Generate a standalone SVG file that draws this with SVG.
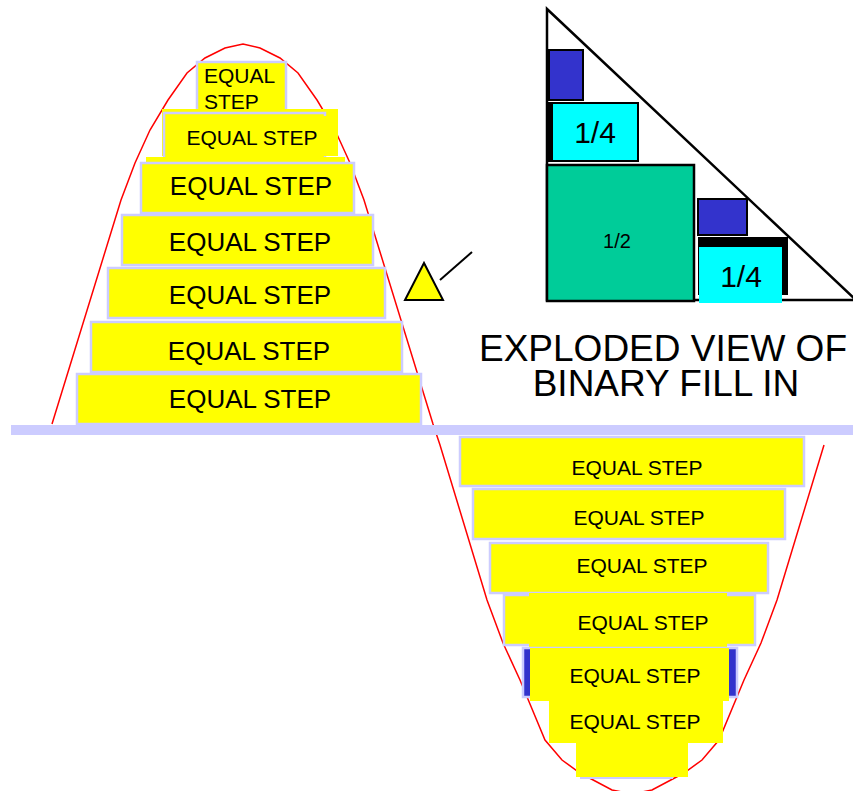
<svg xmlns="http://www.w3.org/2000/svg" width="853" height="791" viewBox="0 0 853 791">
<style>
.y{fill:#ffff00}
.b{fill:#ffff00;stroke:#ccccff;stroke-width:2.5}
.t{font-family:"Liberation Sans",Arial,sans-serif;fill:#000;text-anchor:middle}
.s21{font-size:21px}
.s26{font-size:26px}
.blk{stroke:#000;stroke-width:2.5}
</style>
<rect width="853" height="791" fill="#fff"/>
<g id="wave">
<polyline fill="none" stroke="#ff0000" stroke-width="1.5" points="52,424 121,200 135,163 150,130 168,100 187,73 205,58 225,48 243,44 260,48 280,58 298,73 317,100 335,130 350,163 364,200 433,424 440,445 487,600 503,643 520,680 545,740 562,760 580,773 612,790 632,794 652,790 684,773 702,760 719,740 744,680 761,643 777,600 824,445"/>
</g>
<g id="axis">
<rect x="11" y="425" width="842" height="10" fill="#ccccff"/>
</g>
<g id="upper-steps">
<g id="u1"><rect class="b" x="197" y="62" width="89" height="49"/><text class="t s21" x="204" y="83" style="text-anchor:start">EQUAL</text><text class="t s21" x="204" y="109" style="text-anchor:start">STEP</text></g>
<rect class="y" x="162" y="109" width="176" height="47"/>
<g id="u2"><rect class="b" x="164" y="113" width="161" height="51"/><rect class="y" x="166" y="116" width="172" height="40"/><text class="t s21" x="252" y="145">EQUAL STEP</text></g>
<rect class="y" x="146" y="157" width="199" height="8"/>
<g id="u3"><rect class="b" x="141" y="163" width="213" height="50"/><text class="t s26" x="251" y="195">EQUAL STEP</text></g>
<g id="u4"><rect class="b" x="122" y="215" width="251" height="50"/><text class="t s26" x="250" y="251">EQUAL STEP</text></g>
<g id="u5"><rect class="b" x="108" y="268" width="277" height="50"/><text class="t s26" x="250" y="304">EQUAL STEP</text></g>
<g id="u6"><rect class="b" x="91" y="322" width="311" height="50"/><text class="t s26" x="249" y="360">EQUAL STEP</text></g>
<g id="u7"><rect class="b" x="77" y="374" width="344" height="50"/><text class="t s26" x="250" y="408">EQUAL STEP</text></g>
</g>
<g id="lower-steps">
<g id="l1"><rect class="b" x="460" y="437" width="344" height="49"/><text class="t s21" x="637" y="475">EQUAL STEP</text></g>
<g id="l2"><rect class="b" x="473" y="489" width="312" height="50"/><text class="t s21" x="639" y="525">EQUAL STEP</text></g>
<g id="l3"><rect class="b" x="490" y="543" width="278" height="50"/><text class="t s21" x="642" y="573">EQUAL STEP</text></g>
<g id="l4"><rect class="b" x="504" y="595" width="251" height="50"/><rect class="y" x="529" y="593" width="198" height="56"/><text class="t s21" x="643" y="630">EQUAL STEP</text></g>
<g id="l5"><rect x="523" y="648" width="214" height="49" fill="#3333cc" stroke="#ccccff" stroke-width="2.5"/><rect class="y" x="530" y="648" width="199" height="53"/><text class="t s21" x="635" y="683">EQUAL STEP</text></g>
<g id="l6"><rect class="y" x="549" y="701" width="174" height="42"/><text class="t s21" x="635" y="729">EQUAL STEP</text></g>
<g id="l7"><rect x="580" y="776" width="93" height="3" fill="#ccccff"/><rect class="y" x="576" y="743" width="112" height="34"/></g>
</g>
<g id="binary-fill">
<polygon points="547,9 547,300 856,300" fill="none" class="blk"/>
<g id="blue-top"><rect x="549" y="50" width="34" height="50" fill="#3333cc" stroke="#000" stroke-width="2"/></g>
<g id="quarter-top"><rect x="547" y="102" width="92" height="60" fill="#000"/><rect x="553" y="104" width="84" height="56" fill="#00ffff"/><text class="t" x="595" y="143" font-size="30">1/4</text></g>
<g id="half"><rect x="547" y="165" width="147" height="136" fill="#00cc99" class="blk"/><text class="t" x="617" y="248" font-size="20">1/2</text></g>
<g id="blue-bottom"><rect x="698" y="199" width="49" height="36" fill="#3333cc" stroke="#000" stroke-width="2"/></g>
<g id="quarter-bottom"><rect x="698" y="237" width="90" height="58" fill="#000"/><rect x="699" y="247" width="83" height="56" fill="#00ffff"/><text class="t" x="741" y="287" font-size="30">1/4</text></g>
</g>
<g id="marker-triangle">
<polygon points="424,263 405,300 443,300" fill="#ffff00" stroke="#000" stroke-width="2"/>
</g>
<g id="connectors">
<line x1="440" y1="280" x2="472" y2="252" stroke="#000" stroke-width="2"/>
</g>
<g id="caption">
<text class="t" x="663" y="361" font-size="37">EXPLODED VIEW OF</text>
<text class="t" x="666" y="396" font-size="37">BINARY FILL IN</text>
</g>
</svg>
